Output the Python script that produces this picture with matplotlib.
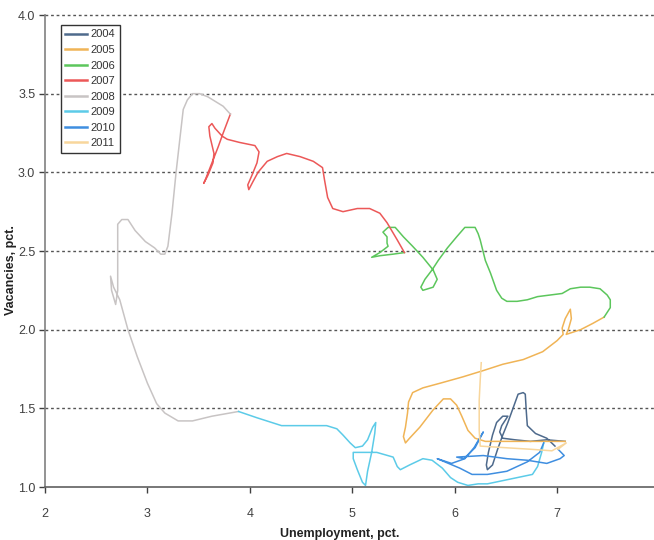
import matplotlib
matplotlib.use('Agg')
import matplotlib.pyplot as plt

plt.rcParams['font.family'] = ['Liberation Sans', 'DejaVu Sans']

# unemployment (x) and vacancies (y), pct., one path per year
u_2004 = [6.98, 6.90, 6.79, 6.71, 6.70, 6.69, 6.67, 6.62, 6.57, 6.52, 6.47, 6.42, 6.37, 6.32,
          6.31, 6.33, 6.37, 6.41, 6.47, 6.52, 6.46, 6.44, 6.47, 6.59, 6.74, 6.90, 7.08]
v_2004 = [1.26, 1.31, 1.34, 1.39, 1.48, 1.59, 1.60, 1.59, 1.50, 1.41, 1.33, 1.24, 1.14, 1.11,
          1.14, 1.22, 1.33, 1.41, 1.45, 1.45, 1.39, 1.35, 1.31, 1.30, 1.29, 1.30, 1.29]

u_2005 = [7.08, 6.83, 6.54, 6.30, 6.20, 6.13, 6.07, 6.02, 5.96, 5.89, 5.79, 5.66, 5.56, 5.52,
          5.50, 5.52, 5.54, 5.55, 5.59, 5.69, 5.86, 6.08, 6.28, 6.47, 6.67, 6.86, 7.00, 7.06,
          7.05, 7.08, 7.13, 7.14, 7.11, 7.09, 7.23, 7.35, 7.46]
v_2005 = [1.29, 1.29, 1.29, 1.29, 1.31, 1.36, 1.45, 1.52, 1.56, 1.56, 1.49, 1.38, 1.31, 1.28,
          1.32, 1.38, 1.47, 1.54, 1.60, 1.63, 1.66, 1.70, 1.74, 1.78, 1.81, 1.86, 1.93, 1.97,
          2.01, 2.07, 2.13, 2.07, 2.00, 1.97, 2.00, 2.04, 2.08]

u_2006 = [7.46, 7.52, 7.52, 7.49, 7.42, 7.32, 7.23, 7.13, 7.05, 6.93, 6.81, 6.71, 6.61, 6.51,
          6.46, 6.41, 6.35, 6.30, 6.25, 6.23, 6.20, 6.14, 6.10, 6.02, 5.93, 5.84, 5.78, 5.71,
          5.67, 5.69, 5.79, 5.83, 5.79, 5.69, 5.59, 5.50, 5.42, 5.35, 5.30, 5.34, 5.34, 5.35,
          5.27, 5.19, 5.27, 5.40, 5.51]
v_2006 = [2.08, 2.14, 2.19, 2.22, 2.26, 2.27, 2.27, 2.26, 2.23, 2.22, 2.21, 2.19, 2.18, 2.18,
          2.20, 2.25, 2.36, 2.44, 2.57, 2.61, 2.65, 2.65, 2.65, 2.59, 2.52, 2.44, 2.38, 2.32,
          2.27, 2.25, 2.27, 2.32, 2.38, 2.46, 2.53, 2.59, 2.65, 2.65, 2.62, 2.59, 2.55, 2.53,
          2.49, 2.46, 2.47, 2.48, 2.49]

u_2007 = [5.51, 5.44, 5.34, 5.27, 5.17, 5.05, 4.91, 4.81, 4.76, 4.73, 4.71, 4.62, 4.49, 4.36,
          4.27, 4.17, 4.08, 4.03, 3.99, 3.98, 4.02, 4.07, 4.09, 4.05, 3.90, 3.78, 3.73, 3.66,
          3.63, 3.60, 3.61, 3.65, 3.64, 3.59, 3.55, 3.57, 3.63, 3.69, 3.74, 3.81]
v_2007 = [2.49, 2.57, 2.68, 2.74, 2.77, 2.77, 2.75, 2.77, 2.84, 2.95, 3.03, 3.07, 3.10, 3.12,
          3.10, 3.07, 3.00, 2.94, 2.89, 2.92, 2.98, 3.06, 3.13, 3.17, 3.19, 3.21, 3.23, 3.28,
          3.31, 3.29, 3.23, 3.12, 3.06, 2.98, 2.93, 2.96, 3.06, 3.16, 3.25, 3.37]

u_2008 = [3.81, 3.74, 3.59, 3.51, 3.44, 3.39, 3.35, 3.32, 3.28, 3.24, 3.20, 3.17, 3.13, 3.07,
          2.98, 2.88, 2.81, 2.75, 2.71, 2.71, 2.71, 2.69, 2.65, 2.64, 2.67, 2.73, 2.81, 2.90,
          3.00, 3.09, 3.17, 3.30, 3.44, 3.63, 3.89]
v_2008 = [3.37, 3.42, 3.48, 3.50, 3.50, 3.46, 3.40, 3.23, 3.00, 2.74, 2.53, 2.48, 2.48, 2.52,
          2.56, 2.63, 2.70, 2.70, 2.67, 2.49, 2.25, 2.16, 2.25, 2.34, 2.27, 2.19, 2.00, 1.83,
          1.66, 1.53, 1.47, 1.42, 1.42, 1.45, 1.48]

u_2009 = [3.89, 4.07, 4.31, 4.42, 4.62, 4.75, 4.85, 4.91, 4.98, 5.03, 5.10, 5.15, 5.20, 5.23,
          5.22, 5.19, 5.15, 5.13, 5.10, 5.05, 5.01, 5.01, 5.11, 5.24, 5.40, 5.44, 5.47, 5.56,
          5.69, 5.78, 5.88, 5.96, 6.03, 6.13, 6.23, 6.32, 6.54, 6.76, 6.81, 6.85, 6.87]
v_2009 = [1.48, 1.44, 1.39, 1.39, 1.39, 1.39, 1.37, 1.33, 1.28, 1.25, 1.26, 1.30, 1.38, 1.41,
          1.34, 1.22, 1.10, 1.01, 1.03, 1.11, 1.18, 1.22, 1.22, 1.22, 1.19, 1.13, 1.11, 1.14,
          1.18, 1.17, 1.12, 1.06, 1.03, 1.01, 1.02, 1.02, 1.05, 1.08, 1.13, 1.22, 1.28]

u_2010 = [6.87, 6.83, 6.71, 6.51, 6.32, 6.17, 6.05, 5.94, 5.83, 5.97, 6.10, 6.19, 6.28, 6.20,
          6.09, 6.02, 6.28, 6.51, 6.71, 6.90, 7.03, 7.07, 7.01]
v_2010 = [1.28, 1.22, 1.16, 1.10, 1.08, 1.08, 1.12, 1.15, 1.18, 1.15, 1.18, 1.25, 1.35, 1.25,
          1.18, 1.19, 1.20, 1.18, 1.17, 1.15, 1.18, 1.20, 1.24]

u_2011 = [7.01, 7.09, 6.95, 6.74, 6.49, 6.25, 6.24, 6.24, 6.25, 6.26]
v_2011 = [1.24, 1.28, 1.23, 1.24, 1.25, 1.26, 1.36, 1.55, 1.68, 1.79]

years = ['2004', '2005', '2006', '2007', '2008', '2009', '2010', '2011']
xs = [u_2004, u_2005, u_2006, u_2007, u_2008, u_2009, u_2010, u_2011]
ys = [v_2004, v_2005, v_2006, v_2007, v_2008, v_2009, v_2010, v_2011]
colors = ['#4e6a8c', '#f0b456', '#5cc65c', '#ec5858', '#c8c4c4', '#5ccbe8', '#3f8ee0', '#f8d69c']

fig = plt.figure(figsize=(6.54, 5.40), dpi=100)
ax = fig.add_axes([45 / 654, 53 / 540, 609 / 654, 472 / 540])

for x, y, c, lab in zip(xs, ys, colors, years):
    ax.plot(x, y, color=c, lw=1.1, label=lab)

ax.set_xlim(2, 7.947)
ax.set_ylim(1.0, 4.0)
ax.set_xticks([2, 3, 4, 5, 6, 7])
ax.set_yticks([1.0, 1.5, 2.0, 2.5, 3.0, 3.5, 4.0])
ax.set_yticklabels(['1.0', '1.5', '2.0', '2.5', '3.0', '3.5', '4.0'])

# dotted horizontal gridlines
for g in [1.5, 2.0, 2.5, 3.0, 3.5, 4.0]:
    ax.axhline(g, color='#555555', lw=1.0, ls=(0, (2, 2)), zorder=0, clip_on=False)

ax.spines['top'].set_visible(False)
ax.spines['right'].set_visible(False)
ax.spines['left'].set_color('#808080')
ax.spines['bottom'].set_color('#606060')
ax.spines['left'].set_linewidth(1.2)
ax.spines['bottom'].set_linewidth(1.2)
ax.tick_params(axis='x', length=4, pad=11, labelsize=9, colors='#404040', width=1)
ax.tick_params(axis='y', length=4, pad=3, labelsize=9, colors='#404040', width=1)

leg = ax.legend(loc='upper left', bbox_to_anchor=(61 / 654, 515 / 540),
                bbox_transform=fig.transFigure, fontsize=8, frameon=True, fancybox=False,
                framealpha=1.0, handlelength=1.9, handletextpad=0.35, labelspacing=0.5,
                borderpad=0.4, borderaxespad=0)
leg.get_frame().set_edgecolor('#333333')
leg.get_frame().set_linewidth(1.0)
for line in leg.get_lines():
    line.set_linewidth(1.8)
for t in leg.get_texts():
    t.set_color('#333333')

fig.text(11 / 654, 0.5, 'Vacancies, pct.', rotation=90, ha='center', va='center',
         fontsize=9, fontweight='bold', color='#222222')
fig.text(340 / 654, 12 / 540, 'Unemployment, pct.', ha='center', va='top',
         fontsize=9, fontweight='bold', color='#222222')

fig.savefig('out.png', dpi=100)
